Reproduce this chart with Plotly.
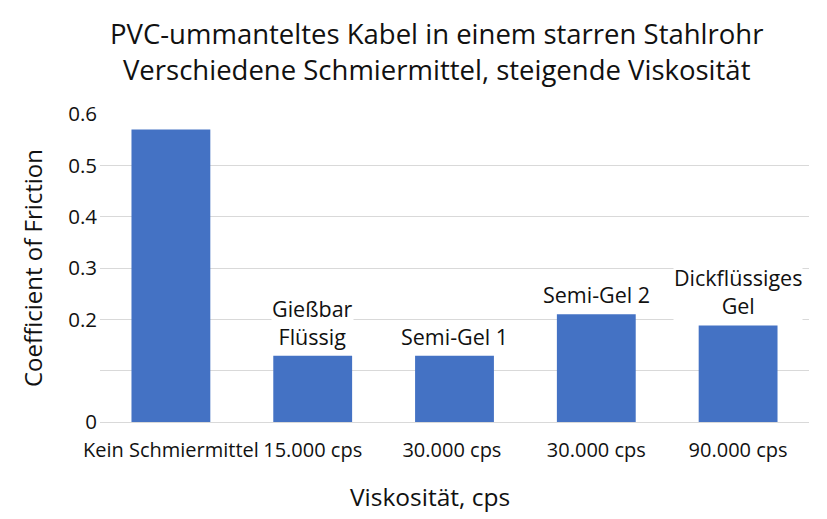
import plotly.graph_objects as go

categories = ["Kein Schmiermittel", "15.000 cps", "30.000 cps ", "30.000 cps", "90.000 cps"]
values = [0.57, 0.129, 0.129, 0.21, 0.188]
bar_labels = ["", "Gießbar<br>Flüssig", "Semi-Gel 1", "Semi-Gel 2", "Dickflüssiges<br>Gel"]
tick_vals = [0, 0.1, 0.2, 0.3, 0.4, 0.5, 0.6]
tick_text = ["0", "", "0.2", "0.3", "0.4", "0.5", "0.6"]
title_text = "PVC-ummanteltes Kabel in einem starren Stahlrohr<br>Verschiedene Schmiermittel, steigende Viskosität"
x_title = "Viskosität, cps"
y_title = "Coefficient of Friction"

FONT = "Open Sans"
INK = "#111111"
fig = go.Figure(go.Bar(x=categories, y=values, marker=dict(color="#4472C4", line=dict(width=0)), width=0.556))

for c, v, t in zip(categories, values, bar_labels):
    if t:
        fig.add_annotation(x=c, y=v, text=t, showarrow=False, yanchor="bottom", yshift=4,
                           bgcolor="white", borderpad=0,
                           font=dict(family=FONT, size=21.5, color=INK))

fig.add_annotation(xref="paper", yref="paper", x=0.474, y=1.2045, xanchor="center", yanchor="middle",
                   text=title_text, showarrow=False, font=dict(family=FONT, size=27.5, color=INK))
fig.add_annotation(xref="paper", yref="paper", x=0.465, y=-0.2435, xanchor="center", yanchor="middle",
                   text=x_title, showarrow=False, font=dict(family=FONT, size=24.5, color=INK))

fig.update_layout(
    width=827, height=519,
    margin=dict(l=100, r=18, t=114, b=97, autoexpand=False),
    paper_bgcolor="white", plot_bgcolor="white",
    font=dict(family=FONT, color=INK),
    showlegend=False,
)
fig.update_xaxes(tickfont=dict(family=FONT, size=20, color=INK), tickangle=0, automargin=False,
                 ticklabelstandoff=14, showline=False, ticks="")
fig.update_yaxes(range=[0, 0.6], tickvals=tick_vals, ticktext=tick_text, showgrid=True, gridcolor="#d9d9d9",
                 gridwidth=1, zeroline=True, zerolinecolor="#d9d9d9", zerolinewidth=1, automargin=False,
                 tickfont=dict(family=FONT, size=20.5, color=INK), ticklabelstandoff=2,
                 title=dict(text=y_title, font=dict(family=FONT, size=24, color=INK), standoff=18))

fig.write_html("out.html")
